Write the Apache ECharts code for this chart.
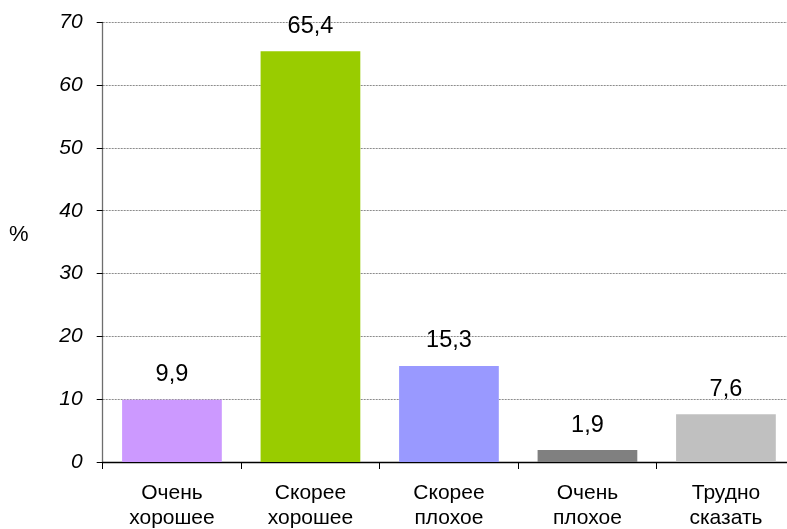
<!DOCTYPE html>
<html>
<head>
<meta charset="utf-8">
<script src="https://cdn.jsdelivr.net/npm/echarts@6/dist/echarts.min.js"></script>
<style>
html,body{margin:0;padding:0;background:#fff;}
#chart{width:787px;height:529px;}
</style>
</head>
<body>
<div id="chart"></div>
<script>
const categories = ['Очень\nхорошее', 'Скорее\nхорошее', 'Скорее\nплохое', 'Очень\nплохое', 'Трудно\nсказать'];
const values = [9.9, 65.4, 15.3, 1.9, 7.6];
const barColors = ['#CC99FF', '#99CC00', '#9999FF', '#808080', '#C0C0C0'];
const yTicks = [0, 10, 20, 30, 40, 50, 60, 70];

const chart = echarts.init(document.getElementById('chart'));
chart.setOption({
  animation: false,
  backgroundColor: '#ffffff',
  textStyle: { fontFamily: 'Liberation Sans, Arial, sans-serif' },
  grid: { left: 102.7, top: 22.3, width: 692.5, height: 439.7, containLabel: false, outerBoundsMode: 'none' },
  graphic: [{
    type: 'text', left: 9, top: 224,
    style: { text: '%', font: '22px "Liberation Sans", Arial, sans-serif', fill: '#000' }
  }],
  xAxis: {
    type: 'category',
    data: categories,
    axisLine: { lineStyle: { color: '#000', width: 1.3 } },
    axisTick: { show: true, length: 7, alignWithLabel: false, lineStyle: { color: '#000' } },
    axisLabel: {
      color: '#000', fontSize: 21, lineHeight: 25, margin: 19,
      fontFamily: 'Liberation Sans, Arial, sans-serif', interval: 0
    }
  },
  yAxis: {
    type: 'value',
    min: yTicks[0], max: yTicks[yTicks.length - 1], interval: 10,
    axisLine: { show: true, lineStyle: { color: '#6e6e6e', width: 1.3 } },
    axisTick: { show: true, length: 6, lineStyle: { color: '#000' } },
    axisLabel: {
      color: '#000', fontSize: 21, fontStyle: 'italic', margin: 20,
      fontFamily: 'Liberation Sans, Arial, sans-serif'
    },
    splitLine: { show: true, lineStyle: { color: '#8c8c8c', type: [2, 1], width: 1 } }
  },
  series: [{
    type: 'bar',
    data: values.map((v, i) => ({ value: v, itemStyle: { color: barColors[i] } })),
    barWidth: '72%',
    label: {
      show: true, position: 'top', distance: 13,
      color: '#000', fontSize: 23.5,
      fontFamily: 'Liberation Sans, Arial, sans-serif',
      formatter: p => String(p.value).replace('.', ',')
    }
  }]
});
</script>
</body>
</html>
